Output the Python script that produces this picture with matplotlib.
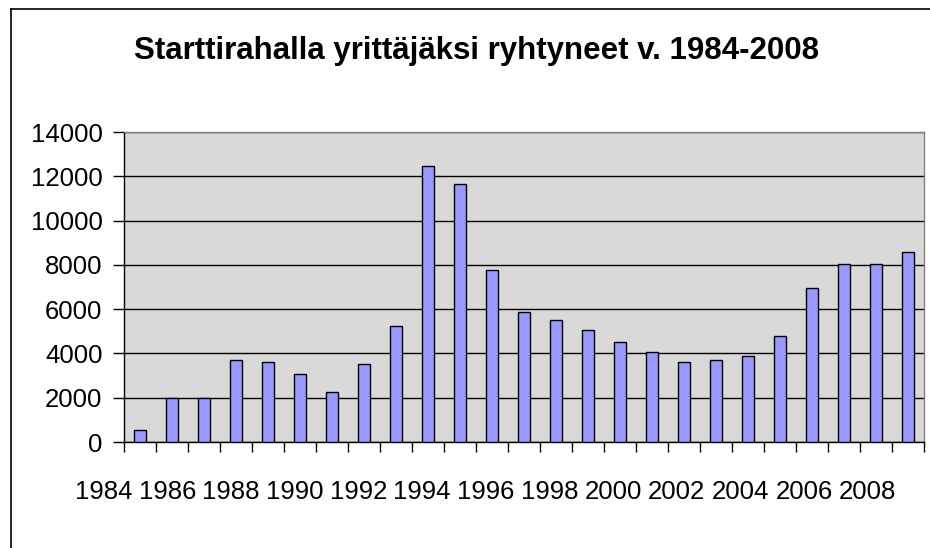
import matplotlib
matplotlib.use('Agg')
import matplotlib.pyplot as plt
import matplotlib.transforms as mtransforms
from matplotlib.lines import Line2D

plt.rcParams['font.family'] = ['Liberation Sans', 'DejaVu Sans']

# vuodet ja starttirahalla aloittaneet
years = list(range(1984, 2009))
values = [560, 2000, 2000, 3720, 3630, 3090, 2270, 3540, 5250, 12480,
          11670, 7780, 5890, 5520, 5070, 4530, 4080, 3630, 3720, 3900,
          4800, 6970, 8040, 8040, 8600]
year_labels = [str(y) for y in years[::2]]
y_ticks = [0, 2000, 4000, 6000, 8000, 10000, 12000, 14000]

fig = plt.figure(figsize=(9.3, 5.48), dpi=100)
fig.patch.set_facecolor('white')

# kehys (vain vasen ja yläreuna näkyvät)
fig.add_artist(Line2D([11/930, 11/930], [0, 1-9/548], color='black', lw=1.2))
fig.add_artist(Line2D([11/930, 1], [1-9/548, 1-9/548], color='black', lw=1.2))

ax = fig.add_axes([124/930, 1-442/548, 800/930, 310/548])
ax.set_facecolor('#d9d9d9')

x = list(range(len(years)))
ax.bar(x, values, width=0.4, color='#9999ff', edgecolor='black', linewidth=1, zorder=3)

ax.set_xlim(-0.5, len(years) - 0.5)
ax.set_ylim(0, 14000)
ax.set_yticks(y_ticks)
ax.set_yticklabels([str(t) for t in y_ticks], fontsize=18.5)
ax.yaxis.grid(True, color='black', linewidth=1, zorder=1)
ax.set_axisbelow(True)

# x-akselin jakoviivat kategorioiden väleissä
ax.set_xticks([i - 0.5 for i in range(len(years) + 1)])
ax.set_xticklabels([])
ax.tick_params(axis='x', direction='out', length=7, width=1, color='black')
ax.tick_params(axis='y', direction='out', length=8, width=1, color='black', pad=7.5)

ax.spines['left'].set_color('black')
ax.spines['bottom'].set_color('black')
ax.spines['top'].set_color('#808080')
ax.spines['right'].set_color('#808080')
for s in ax.spines.values():
    s.set_linewidth(1)

# vuosiluvut (Excel piirsi ne hieman vasemmalle)
trans = mtransforms.blended_transform_factory(ax.transData, fig.transFigure)
for k, lab in enumerate(year_labels):
    ax.text(k * 1.99 - 1.14, 1 - 492/548, lab, transform=trans, fontsize=18.5,
            ha='center', va='center', clip_on=False)

fig.text(477/930, 1 - 51/548, 'Starttirahalla yrittäjäksi ryhtyneet v. 1984-2008',
         fontsize=22.5, fontweight='bold', ha='center', va='center')

plt.savefig('out.png', dpi=100)
